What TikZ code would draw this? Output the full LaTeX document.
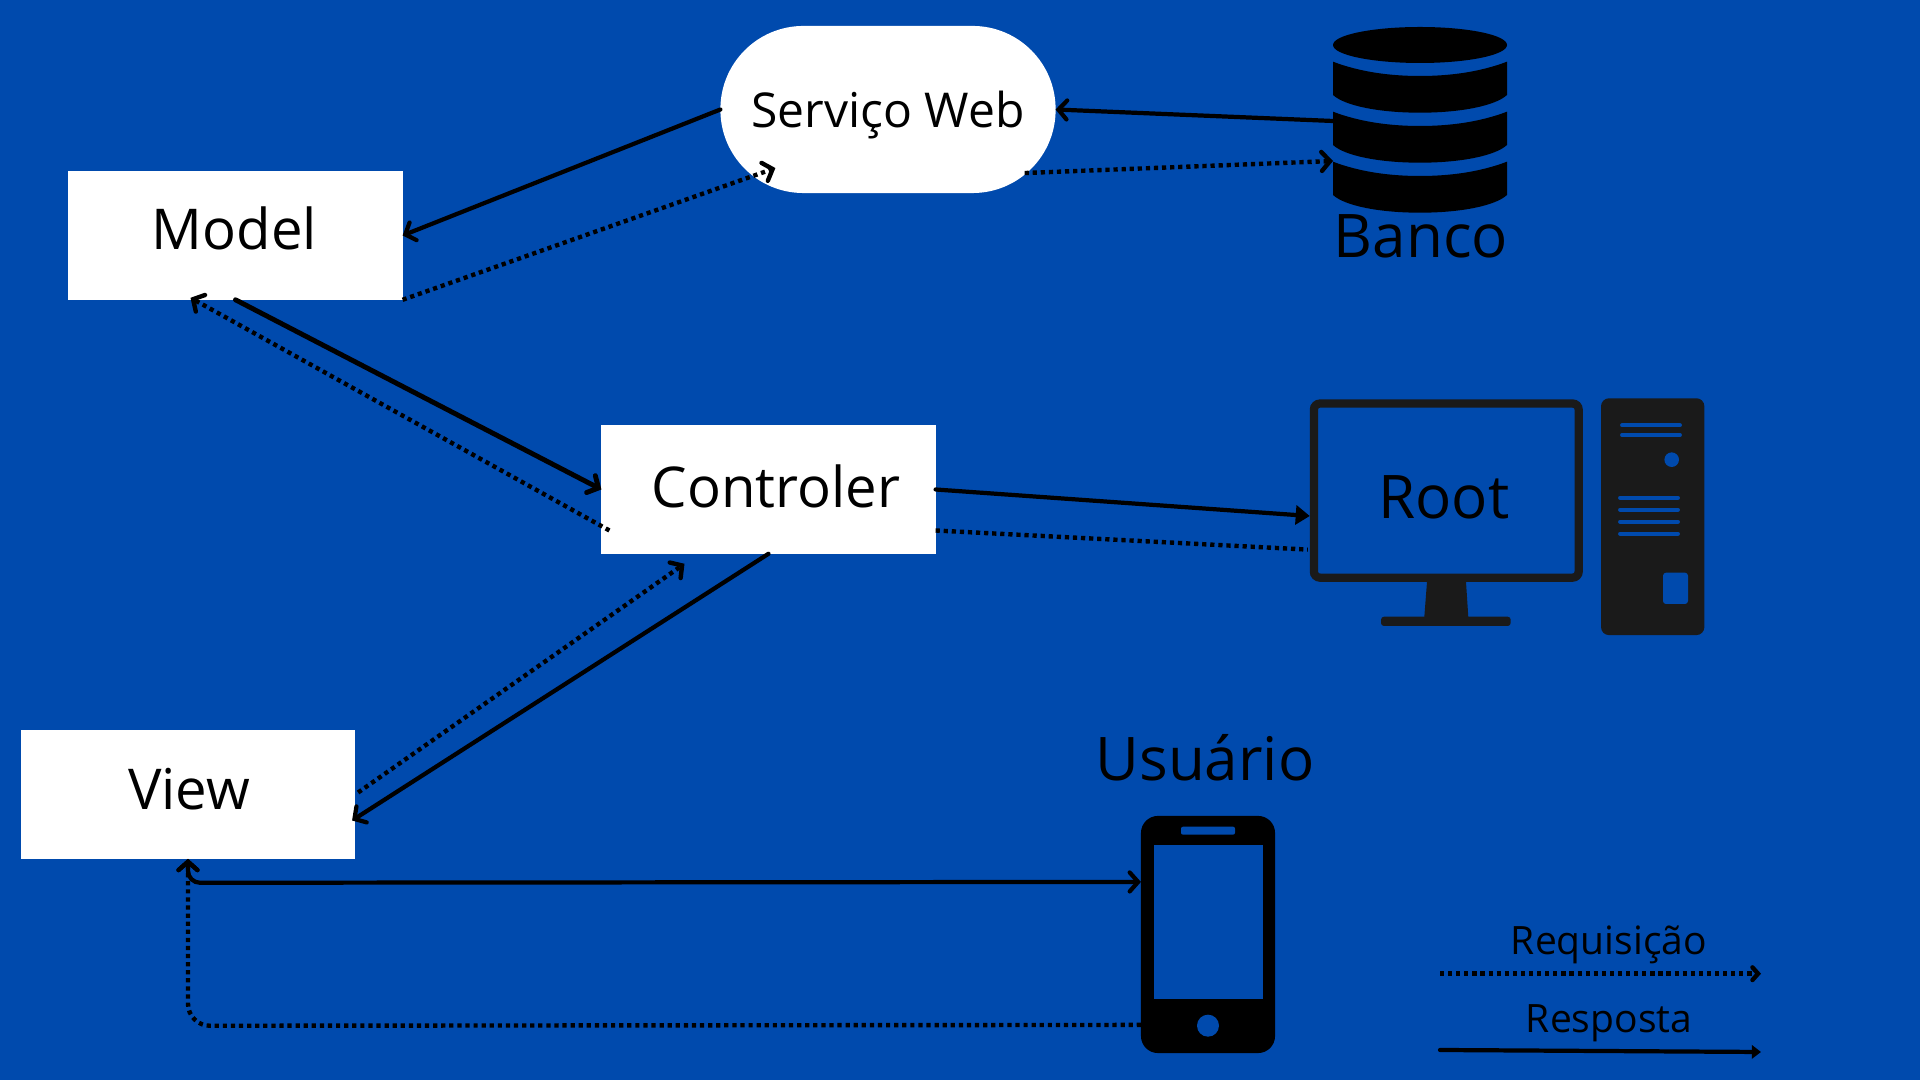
\documentclass[tikz,border=0pt]{standalone}
\usepackage{fontspec}
\setmainfont{Open Sans}
\usepackage{tikz}
\usetikzlibrary{arrows.meta,calc}
\definecolor{fundo}{HTML}{004AAD}
\definecolor{pcgray}{HTML}{1A1A1A}
\tikzset{
  caixa/.style={fill=white,minimum width=3.34cm,minimum height=1.285cm,inner sep=0pt,outer sep=0pt},
  rotulo/.style={font=\fontsize{17.1}{20}\selectfont,anchor=base,inner sep=0pt},
  rotulocaixa/.style={font=\fontsize{16}{20}\selectfont,anchor=base,inner sep=0pt},
  rotulopeq/.style={font=\fontsize{11.1}{13}\selectfont,anchor=base,inner sep=0pt},
  resposta/.style={line width=1.2pt,line cap=round},
  requisicao/.style={line width=1.25pt,dash pattern=on 1.2pt off 1.1pt},
  barb/.tip={Straight Barb[length=2.4pt,width=5.4pt,line cap=round]},
  cheia/.tip={Triangle[length=4pt,width=5.4pt]},
  >=barb
}
\begin{document}
\begin{tikzpicture}[x=0.01cm,y=-0.01cm]
\useasboundingbox (0,0) rectangle (1920,1080);
\fill[fundo] (0,0) rectangle (1920,1080);

% caixas
\node[caixa] (model) at (235.5,235.5) {};
\node[caixa] (controler) at (768.5,489.5) {};
\node[caixa] (view) at (188,794.5) {};
\node[fill=white,minimum width=3.35cm,minimum height=1.67cm,rounded corners=0.83cm,inner sep=0pt,outer sep=0pt] (servico) at (888,109.5) {};
\node[rotulocaixa] (modeltxt) at (234.5,249.5) {Model};
\node[rotulocaixa] (controlertxt) at (776,507.5) {Controler};
\node[rotulocaixa] (viewtxt) at (189,809.5) {View};
\node[rotulo,font=\fontsize{13.65}{16}\selectfont] (servicotxt) at (888,127.5) {Serviço Web};

% banco
\fill (1420,45) ellipse (87 and 18);
\foreach \d in {0,50,100}
  \fill (1333,61.7+\d) .. controls (1360,72+\d) and (1390,76+\d) .. (1420,76+\d)
    .. controls (1450,76+\d) and (1480,72+\d) .. (1507,61.7+\d) -- (1507,95+\d)
    .. controls (1495,106+\d) and (1460,112.7+\d) .. (1420,112.7+\d)
    .. controls (1380,112.7+\d) and (1345,106+\d) .. (1333,95+\d) -- cycle;
\coordinate (bancoin) at (1333,121);
\coordinate (bancoout) at (1333,161);
\node[rotulo] (bancotxt) at (1421,258) {Banco};

% root
\node[draw=pcgray,line width=2.35pt,rounded corners=0.06cm,minimum width=2.646cm,minimum height=1.74cm,inner sep=0pt] (monitor) at (1446.3,490.6) {};
\fill[pcgray] (1427,582) -- (1466,582) -- (1468.3,617) -- (1424.3,617) -- cycle;
\fill[pcgray,rounded corners=0.03cm] (1381,616.7) rectangle (1510.7,626);
\node[fill=pcgray,rounded corners=0.08cm,minimum width=1.033cm,minimum height=2.367cm,inner sep=0pt,outer sep=0pt] (torre) at (1652.7,516.7) {};
\foreach \y in {425.3,435}
  \draw[fundo,line width=1.1pt,line cap=round] (1622,\y) -- (1680,\y);
\foreach \y in {497.7,509.7,521.7,533.7}
  \draw[fundo,line width=1.1pt,line cap=round] (1620,\y) -- (1678,\y);
\fill[fundo] (1671.7,459.7) circle (7.3);
\fill[fundo,rounded corners=0.03cm] (1663,572.7) rectangle (1688,604);
\node[rotulo] (roottxt) at (1444,519) {Root};

% usuario
\node[rotulo] (usuariotxt) at (1205,781) {Usuário};
\node[fill=black,rounded corners=0.17cm,minimum width=1.34cm,minimum height=2.37cm,inner sep=0pt,outer sep=0pt] (phone) at (1208,934.5) {};
\fill[fundo] (1153.6,845) rectangle (1262.5,998.7);
\fill[fundo,rounded corners=0.02cm] (1181,826.7) rectangle (1235,834.7);
\fill[fundo] (1208,1025.7) circle (11);

% setas
\draw[resposta,->] (servico.west) -- (model.east);
\draw[requisicao,->] (model.south east) -- ($(servico.south west)+(55,-25)$);
\draw[resposta,->] (bancoin) -- (servico.east);
\draw[requisicao,->] ($(servico.south east)+(-31,-20)$) -- (bancoout);
\draw[resposta,line width=1.4pt,->] (model.south) -- (controler.west);
\draw[requisicao,->] ($(controler.west)+(8,41)$) -- ($(model.south)+(-45,-2)$);
\draw[resposta,-cheia] (controler.east) -- (monitor.west |- 0,516);
\draw[requisicao] ($(controler.east)+(0,41)$) -- ($(monitor.west)+(-2,59)$);
\draw[resposta,->] (controler.south) -- ($(view.east)+(-3,26)$);
\draw[requisicao,->] ($(view.east)+(3,-2)$) -- ($(controler.south)+(-84,10)$);
\draw[resposta,rounded corners=0.12cm,<->] (view.south) -- ++(0,24) -- ($(phone.north west)+(0,66)$);
\draw[requisicao,rounded corners=0.22cm,->] ($(phone.north west)+(0,209)$) -- ($(view.south)+(0,167)$) -- (view.south);

% legenda
\node[rotulopeq] (reqtxt) at (1609,955) {Requisição};
\coordinate (reqa) at (1440,973.7);
\coordinate (reqb) at (1761,973.7);
\draw[requisicao,-{Straight Barb[length=1.6pt,width=3.6pt,line cap=round]}] (reqa) -- (reqb);
\node[rotulopeq] (restxt) at (1609,1033) {Resposta};
\coordinate (resa) at (1440,1050);
\coordinate (resb) at (1761,1052);
\draw[resposta,-{Triangle[length=2.6pt,width=3.8pt]}] (resa) -- (resb);
\end{tikzpicture}
\end{document}
